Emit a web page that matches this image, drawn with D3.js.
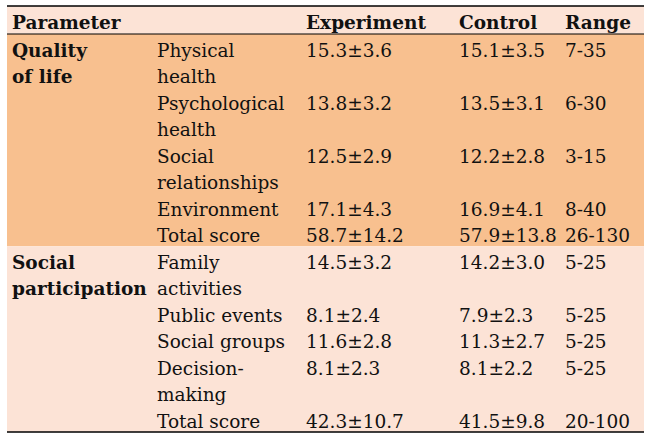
<!DOCTYPE html>
<html>
<head>
<meta charset="utf-8">
<script src="https://cdn.jsdelivr.net/npm/d3@7"></script>
<style>
  body { margin: 0; background: #fff; }
  svg { display: block; }
  text { font-family: "DejaVu Serif", serif; font-size: 18.5px; fill: #111; }
  .bold { font-weight: bold; }
</style>
</head>
<body>
<div id="table"></div>
<script>
// Table contents
const headers = ["Parameter", "", "Experiment", "Control", "Range"];
const groups = ["Quality\nof life", "Social\nparticipation"];
const groupOf = [0, 0, 0, 0, 0, 1, 1, 1, 1, 1];
const items = [
    "Physical\nhealth", "Psychological\nhealth", "Social\nrelationships", "Environment", "Total score",
    "Family\nactivities", "Public events", "Social groups", "Decision-\nmaking", "Total score"
];
const experiment = ["15.3±3.6", "13.8±3.2", "12.5±2.9", "17.1±4.3", "58.7±14.2",
    "14.5±3.2", "8.1±2.4", "11.6±2.8", "8.1±2.3", "42.3±10.7"];
const control = ["15.1±3.5", "13.5±3.1", "12.2±2.8", "16.9±4.1", "57.9±13.8",
    "14.2±3.0", "7.9±2.3", "11.3±2.7", "8.1±2.2", "41.5±9.8"];
const ranges = ["7-35", "6-30", "3-15", "8-40", "26-130",
    "5-25", "5-25", "5-25", "5-25", "20-100"];

const width = 653, height = 443;
const tLeft = 7, tRight = 644, tTop = 6, headerBottom = 34, tBottom = 432;
const groupFill = ["#f8c08f", "#fce3d6"];

const svg = d3.select("#table").append("svg")
    .attr("width", width)
    .attr("height", height);

// columns
const x = d3.scaleOrdinal()
    .domain(["group", "item", "exp", "ctl", "range"])
    .range([12, 157, 306, 459, 565]);

// rows: number of text lines per row, stacked on a line scale
const lineCount = items.map(d => d.split("\n").length);
const rowStart = [];
let acc = 0;
lineCount.forEach(n => { rowStart.push(acc); acc += n; });
const y = d3.scaleLinear().domain([0, acc]).range([headerBottom, tBottom]);
const lineH = y(1) - y(0);
const baseOff = 22.5;

// header band
svg.append("rect")
    .attr("x", tLeft).attr("y", tTop)
    .attr("width", tRight - tLeft).attr("height", headerBottom - tTop)
    .attr("fill", "#fce3d6");

// group bands + group labels
groups.forEach((g, gi) => {
    const rows = d3.range(items.length).filter(i => groupOf[i] === gi);
    const first = rows[0], last = rows[rows.length - 1];
    const y0 = y(rowStart[first]), y1 = y(rowStart[last] + lineCount[last]);
    svg.append("rect")
        .attr("x", tLeft).attr("y", y0)
        .attr("width", tRight - tLeft).attr("height", y1 - y0)
        .attr("fill", groupFill[gi]);
    const t = svg.append("text").attr("class", "bold");
    g.split("\n").forEach((line, li) => {
        t.append("tspan")
            .attr("x", x("group"))
            .attr("y", y0 + baseOff + li * lineH)
            .text(line);
    });
});

// header text
const headKeys = ["group", "item", "exp", "ctl", "range"];
svg.selectAll("text.head")
    .data(headers)
    .join("text")
    .attr("class", "head bold")
    .attr("x", (d, i) => x(headKeys[i]))
    .attr("y", 29)
    .text(d => d);

// body cells
const cols = [["item", items], ["exp", experiment], ["ctl", control], ["range", ranges]];
items.forEach((_, r) => {
    cols.forEach(([key, arr]) => {
        const t = svg.append("text");
        arr[r].split("\n").forEach((line, li) => {
            t.append("tspan")
                .attr("x", x(key))
                .attr("y", y(rowStart[r]) + baseOff + li * lineH)
                .text(line);
        });
    });
});

// rules
svg.append("line").attr("x1", tLeft).attr("x2", tRight).attr("y1", tTop).attr("y2", tTop)
    .attr("stroke", "#000").attr("stroke-width", 1.5);
svg.append("line").attr("x1", tLeft).attr("x2", tRight).attr("y1", headerBottom).attr("y2", headerBottom)
    .attr("stroke", "#000").attr("stroke-width", 1);
svg.append("line").attr("x1", tLeft).attr("x2", tRight).attr("y1", tBottom).attr("y2", tBottom)
    .attr("stroke", "#000").attr("stroke-width", 1.5);
</script>
</body>
</html>
